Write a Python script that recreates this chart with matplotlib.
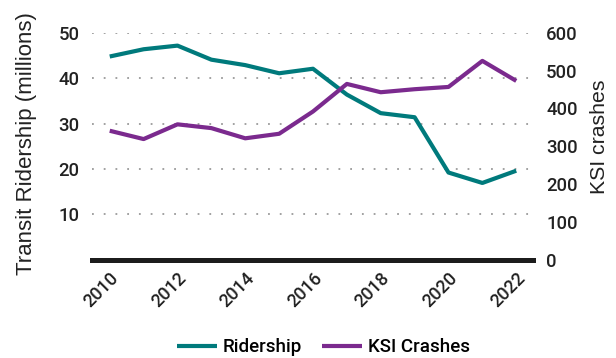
import matplotlib
matplotlib.use("Agg")
import matplotlib.pyplot as plt

years = [2010, 2011, 2012, 2013, 2014, 2015, 2016, 2017, 2018, 2019, 2020, 2021, 2022]
ridership = [44.8, 46.4, 47.2, 44.1, 42.9, 41.1, 42.1, 36.4, 32.3, 31.4, 19.2, 16.9, 19.6]
ksi_crashes = [341, 319, 358, 348, 321, 333, 392, 465, 443, 451, 457, 526, 473]

left_ticks = [10, 20, 30, 40, 50]
right_ticks = [0, 100, 200, 300, 400, 500, 600]
x_ticks = [2010, 2012, 2014, 2016, 2018, 2020, 2022]

teal = "#007A7C"
purple = "#7B2A8E"
text_color = "#222222"
tick_font = "Roboto"
label_font = "Liberation Sans"

fig = plt.figure(figsize=(6.16, 3.58), dpi=100)
ax = fig.add_axes([0.149, 0.275, 0.716, 0.633])
ax2 = ax.twinx()

l1, = ax.plot(years, ridership, color=teal, lw=3, solid_capstyle="butt", label="Ridership")
l2, = ax2.plot(years, ksi_crashes, color=purple, lw=3, solid_capstyle="butt", label="KSI Crashes")

ax.set_xlim(2009.47, 2022.49)
ax.set_ylim(0, 50)
ax2.set_ylim(0, 600)

ax.set_yticks(left_ticks)
ax2.set_yticks(right_ticks)
ax.set_xticks(x_ticks)

ax.yaxis.grid(True, linestyle=(0, (1, 5.5)), color="#9a9a9a", lw=1.3)
ax.set_axisbelow(True)

for a in (ax, ax2):
    for s in ("top", "left", "right", "bottom"):
        a.spines[s].set_visible(False)
    a.tick_params(length=0)

ax.axhline(0, color="#1c1c1c", lw=3.6, clip_on=False, zorder=3)

for lab in ax.get_yticklabels() + ax2.get_yticklabels():
    lab.set_fontfamily(tick_font)
    lab.set_fontsize(13.3)
    lab.set_fontweight("medium")
    lab.set_color(text_color)
ax.tick_params(axis="y", pad=9)
ax2.tick_params(axis="y", pad=9.5)

ax.set_xticklabels([str(y) for y in x_ticks], rotation=45, ha="right",
                   rotation_mode="anchor", fontfamily=tick_font, fontsize=13,
                   fontweight="medium", color=text_color)
ax.tick_params(axis="x", pad=7)

fig.text(0.0438, 0.599, "Transit Ridership (millions)", rotation=90,
         ha="center", va="center", fontfamily=label_font, fontsize=16,
         color=text_color)
fig.text(0.974, 0.619, "KSI crashes", rotation=90,
         ha="center", va="center", fontfamily=label_font, fontsize=15.3,
         color=text_color)

fig.legend(handles=[l1, l2], loc="center", bbox_to_anchor=(0.525, 0.03),
           ncol=2, frameon=False,
           prop={"family": tick_font, "size": 13.5, "weight": "medium"},
           handlelength=2.13, columnspacing=1.07, handletextpad=0.32,
           borderaxespad=0, borderpad=0)

fig.savefig("out.png", dpi=100)
